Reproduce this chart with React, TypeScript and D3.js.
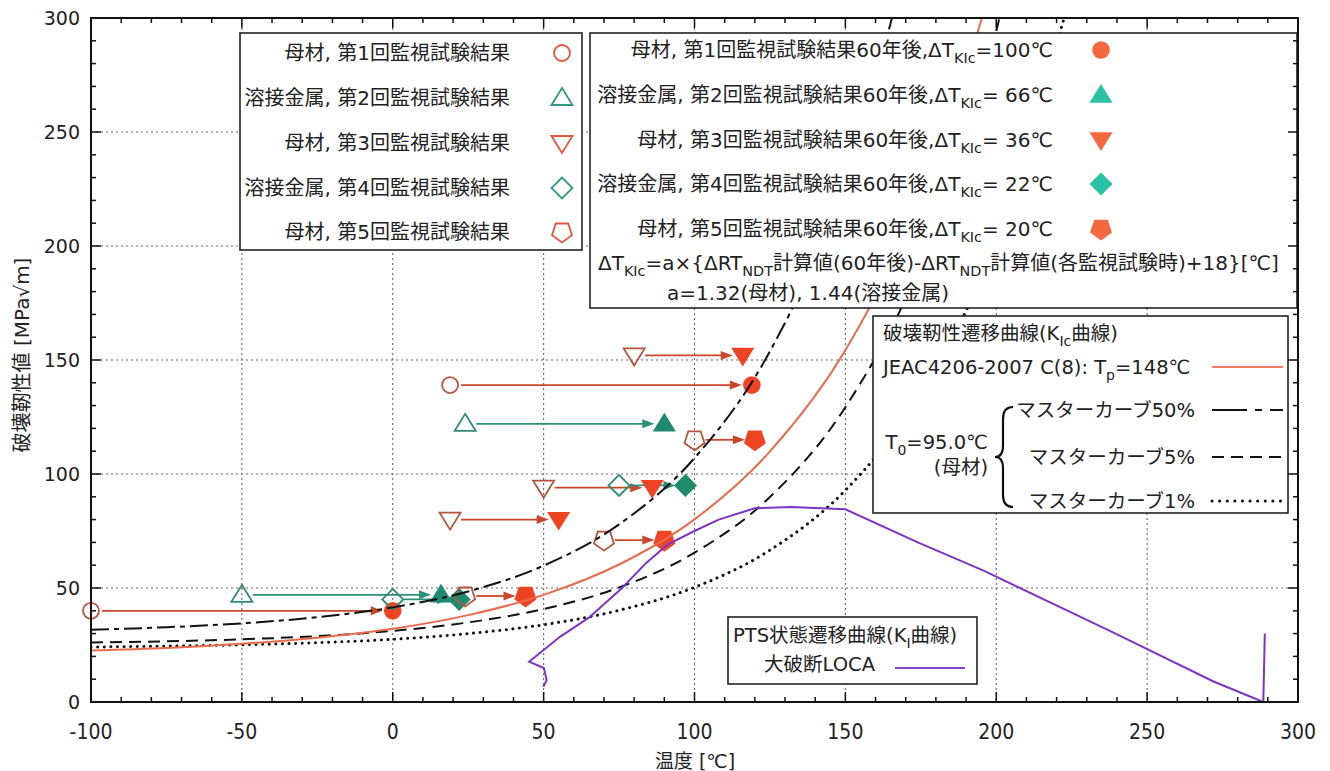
import React, { useEffect, useRef } from "react";
import * as d3 from "d3";

// axis ticks
const xTicks = [-100, -50, 0, 50, 100, 150, 200, 250, 300];
const yTicks = [0, 50, 100, 150, 200, 250, 300];

// JEAC4206-2007 KIc curve, Tp = 148℃
const jeacT = [-100, -75, -50, -25, 0, 25, 50, 75, 100, 125, 150, 175, 200];
const jeacK = [22.6, 23.7, 25.5, 28.2, 32.1, 38.1, 47.0, 60.3, 80.1, 109.9, 154.3, 220.8, 320.2];

// master curves, T0 = 95.0℃
const mc50T = [-100, -75, -50, -25, 0, 25, 50, 75, 100, 125, 150, 175];
const mc50K = [31.7, 32.8, 34.5, 37.2, 41.5, 48.5, 59.8, 77.9, 107.0, 153.8, 229.0, 350.0];
const mc5T = [-100, -75, -50, -25, 0, 25, 50, 75, 100, 125, 150, 175, 200, 225];
const mc5K = [26.1, 26.6, 27.5, 28.9, 31.2, 34.9, 40.8, 50.2, 65.5, 89.9, 129.3, 192.5, 294.3, 457.8];
const mc1T = [-100, -75, -50, -25, 0, 25, 50, 75, 100, 125, 150, 175, 200, 225];
const mc1K = [24.1, 24.5, 25.1, 26.0, 27.5, 30.0, 33.9, 40.2, 50.3, 66.6, 92.9, 135.1, 202.9, 312.0];

// PTS transient (large break LOCA)
const ptsT = [49.9, 51, 50.1, 45.2, 55.4, 65, 76, 84, 91, 100, 108, 120, 132, 150, 174, 196, 238, 272, 288.5, 289];
const ptsK = [6.7, 9.6, 14.9, 17.7, 28.6, 37, 50, 61, 69, 75, 80, 85, 85.5, 84.5, 70, 57.5, 31, 9, 0, 30];

// surveillance results (T) and shifted to 60 years (T60)
const s1T = [-100, 19], s1T60 = [0, 119], s1K = [40, 139];
const s2T = [-50, 24], s2T60 = [16, 90], s2K = [47, 122];
const s3T = [19, 50, 80], s3T60 = [55, 86, 116], s3K = [80, 94, 152];
const s4T = [0, 75], s4T60 = [22, 97], s4K = [45, 95];
const s5T = [24, 70, 100], s5T60 = [44, 90, 120], s5K = [46.5, 71, 115];

const openLabels = [
  "母材, 第1回監視試験結果",
  "溶接金属, 第2回監視試験結果",
  "母材, 第3回監視試験結果",
  "溶接金属, 第4回監視試験結果",
  "母材, 第5回監視試験結果",
];
const filledLabels = [
  "母材, 第1回監視試験結果60年後,ΔT",
  "溶接金属, 第2回監視試験結果60年後,ΔT",
  "母材, 第3回監視試験結果60年後,ΔT",
  "溶接金属, 第4回監視試験結果60年後,ΔT",
  "母材, 第5回監視試験結果60年後,ΔT",
];
const dtLabels = ["=100℃", "= 66℃", "= 36℃", "= 22℃", "= 20℃"];

const FONT = "'DejaVu Sans', 'Noto Sans CJK JP', sans-serif";
const W = 1330;
const H = 771;
const L = 91, R = 1298, T = 18, B = 702;

const symbolPath = (kind: string) => {
  if (kind === "circle") return d3.symbol(d3.symbolCircle, Math.PI * 64)() as string;
  if (kind === "up") return "M0,-10L10.5,7L-10.5,7Z";
  if (kind === "down") return "M0,10L10.5,-7L-10.5,-7Z";
  if (kind === "diamond") return "M0,-10.5L10.5,0L0,10.5L-10.5,0Z";
  const pts = d3.range(5).map((i) => {
    const a = Math.PI / 2 + (i * 2 * Math.PI) / 5;
    return [10.5 * Math.cos(a), 10.5 * Math.sin(a)];
  });
  return "M" + pts.join("L") + "Z";
};

export default function App() {
  const svgRef = useRef<SVGSVGElement>(null);

  useEffect(() => {
    const svg = d3.select(svgRef.current);
    svg.selectAll("*").remove();

    const x = d3.scaleLinear().domain([-100, 300]).range([L, R]);
    const y = d3.scaleLinear().domain([0, 300]).range([B, T]);

    svg.append("defs").append("clipPath").attr("id", "plotclip")
      .append("rect").attr("x", L).attr("y", T).attr("width", R - L).attr("height", B - T);

    // grid
    const grid = svg.append("g").attr("stroke", "#666").attr("stroke-width", 1.1).attr("stroke-dasharray", "2,3");
    xTicks.slice(1, -1).forEach((t) => {
      grid.append("line").attr("x1", x(t)).attr("x2", x(t)).attr("y1", T).attr("y2", B);
    });
    yTicks.slice(1, -1).forEach((t) => {
      grid.append("line").attr("x1", L).attr("x2", R).attr("y1", y(t)).attr("y2", y(t));
    });

    // surveillance markers with arrows
    const series = [
      { t: s1T, t60: s1T60, k: s1K, kind: "circle", weld: false },
      { t: s2T, t60: s2T60, k: s2K, kind: "up", weld: true },
      { t: s3T, t60: s3T60, k: s3K, kind: "down", weld: false },
      { t: s4T, t60: s4T60, k: s4K, kind: "diamond", weld: true },
      { t: s5T, t60: s5T60, k: s5K, kind: "pent", weld: false },
    ];
    const pts = svg.append("g");
    series.forEach((s) => {
      const arrowC = s.weld ? "#2a9178" : "#c9472b";
      s.t.forEach((t0, i) => {
        const yy = y(s.k[i]);
        const x0 = x(t0) + 11;
        const x1 = x(s.t60[i]) - 10;
        pts.append("line").attr("x1", x0).attr("x2", x1 - 8).attr("y1", yy).attr("y2", yy)
          .attr("stroke", arrowC).attr("stroke-width", 1.8);
        pts.append("path").attr("d", `M${x1},${yy}L${x1 - 12},${yy - 4.5}L${x1 - 12},${yy + 4.5}Z`).attr("fill", arrowC);
      });
    });
    series.forEach((s) => {
      pts.selectAll(null).data(s.t).join("path")
        .attr("d", symbolPath(s.kind))
        .attr("transform", (d, i) => `translate(${x(d)},${y(s.k[i])})`)
        .attr("fill", "none")
        .attr("stroke", s.weld ? "#2e8a72" : "#b5553f")
        .attr("stroke-width", 1.8);
      pts.selectAll(null).data(s.t60).join("path")
        .attr("d", symbolPath(s.kind))
        .attr("transform", (d, i) => `translate(${x(d)},${y(s.k[i])}) scale(1.1)`)
        .attr("fill", s.weld ? "#1f8a6e" : "#ef4424");
    });

    // curves
    const curves = svg.append("g").attr("clip-path", "url(#plotclip)").attr("fill", "none");
    const smooth = d3.line<number>().x((d) => x(d)).curve(d3.curveMonotoneX);
    const addCurve = (ts: number[], ks: number[], color: string, width: number, dash: string | null, cap = "butt") => {
      curves.append("path")
        .attr("d", smooth.y((d, i) => y(ks[i]))(ts))
        .attr("stroke", color).attr("stroke-width", width)
        .attr("stroke-dasharray", dash).attr("stroke-linecap", cap);
    };
    addCurve(mc1T, mc1K, "#111", 3, "0.1,6.5", "round");
    addCurve(mc5T, mc5K, "#111", 2, "12,7");
    addCurve(mc50T, mc50K, "#111", 2, "18,5,5,5");
    addCurve(jeacT, jeacK, "#e96c4e", 2, null);
    curves.append("path")
      .attr("d", d3.line<number>().x((d) => x(d)).y((d, i) => y(ptsK[i]))(ptsT))
      .attr("stroke", "#7f35c4").attr("stroke-width", 2);

    // rich text helper with subscripts
    const rich = (g: any, px: number, py: number, parts: [string, boolean][], anchor: string, size: number) => {
      const t = g.append("text").attr("x", px).attr("y", py).attr("text-anchor", anchor)
        .attr("font-size", size).attr("font-family", FONT).attr("fill", "#222").style("white-space", "pre");
      parts.forEach(([s, sub], i) => {
        const ts = t.append("tspan").text(s);
        if (sub) ts.attr("dy", 6).attr("font-size", size * 0.72);
        else if (i > 0 && parts[i - 1][1]) ts.attr("dy", -6);
      });
      return t;
    };
    const box = (g: any, x0: number, y0: number, x1: number, y1: number) =>
      g.append("rect").attr("x", x0).attr("y", y0).attr("width", x1 - x0).attr("height", y1 - y0)
        .attr("fill", "#fff").attr("stroke", "#222").attr("stroke-width", 1.6);

    // legend 1: open markers
    const lg1 = svg.append("g");
    box(lg1, 240, 33, 582, 250);
    const lg1Y = [53, 98, 143, 188, 232];
    openLabels.forEach((lab, i) => {
      rich(lg1, 510, lg1Y[i] + 7, [[lab, false]], "end", 20);
      lg1.append("path").attr("d", symbolPath(series[i].kind))
        .attr("transform", `translate(562,${lg1Y[i]})`).attr("fill", "none")
        .attr("stroke", series[i].weld ? "#2f9a80" : "#e4563e").attr("stroke-width", 1.8);
    });

    // legend 2: filled markers
    const lg2 = svg.append("g");
    box(lg2, 590, 33, 1297, 308);
    const lg2Y = [50, 95, 140, 184, 229];
    filledLabels.forEach((lab, i) => {
      rich(lg2, 1053, lg2Y[i] + 7, [[lab, false], ["KIc", true], [dtLabels[i], false]], "end", 20);
      lg2.append("path").attr("d", symbolPath(series[i].kind))
        .attr("transform", `translate(1101,${lg2Y[i]}) scale(1.1)`)
        .attr("fill", series[i].weld ? "#2cc0a6" : "#f6683f");
    });
    rich(lg2, 598, 270, [["ΔT", false], ["KIc", true], ["=a×{ΔRT", false], ["NDT", true], ["計算値(60年後)-ΔRT", false], ["NDT", true], ["計算値(各監視試験時)+18}[℃]", false]], "start", 20);
    rich(lg2, 667, 300, [["a=1.32(母材), 1.44(溶接金属)", false]], "start", 20);

    // legend 3: KIc curves
    const lg3 = svg.append("g");
    box(lg3, 873, 316, 1288, 513);
    rich(lg3, 883, 340, [["破壊靭性遷移曲線(K", false], ["Ic", true], ["曲線)", false]], "start", 19.5);
    rich(lg3, 883, 374, [["JEAC4206-2007 C(8): T", false], ["p", true], ["=148℃", false]], "start", 19.5);
    lg3.append("line").attr("x1", 1212).attr("x2", 1283).attr("y1", 367).attr("y2", 367).attr("stroke", "#ef7e62").attr("stroke-width", 2.2);
    const mcRows: [string, number, string, number][] = [
      ["マスターカーブ50%", 410, "35,8,7,8", 2],
      ["マスターカーブ5%", 457, "12,7", 2],
      ["マスターカーブ1%", 501, "0.1,7.5", 3],
    ];
    mcRows.forEach(([lab, yy, dash, w]) => {
      rich(lg3, 1195, yy + 7, [[lab, false]], "end", 19.5);
      lg3.append("line").attr("x1", 1212).attr("x2", 1283).attr("y1", yy).attr("y2", yy)
        .attr("stroke", "#111").attr("stroke-width", w).attr("stroke-dasharray", dash)
        .attr("stroke-linecap", w > 2 ? "round" : "butt");
    });
    rich(lg3, 988, 449, [["T", false], ["0", true], ["=95.0℃", false]], "end", 19.5);
    rich(lg3, 988, 474, [["(母材)", false]], "end", 19.5);
    lg3.append("path")
      .attr("d", "M1013,407Q1003,407 1003,419L1003,446Q1003,457 995,457Q1003,457 1003,468L1003,495Q1003,507 1013,507")
      .attr("fill", "none").attr("stroke", "#111").attr("stroke-width", 2.2);

    // legend 4: PTS
    const lg4 = svg.append("g");
    box(lg4, 728, 617, 977, 684);
    rich(lg4, 733, 642, [["PTS状態遷移曲線(K", false], ["I", true], ["曲線)", false]], "start", 19.5);
    rich(lg4, 875, 671, [["大破断LOCA", false]], "end", 19.5);
    lg4.append("line").attr("x1", 895).attr("x2", 965).attr("y1", 668).attr("y2", 668).attr("stroke", "#8a45cc").attr("stroke-width", 2);

    // frame and ticks
    const ax = svg.append("g").attr("stroke", "#111");
    d3.range(-100, 301, 10).forEach((t) => {
      const len = t % 50 === 0 ? 10 : 5;
      ax.append("line").attr("x1", x(t)).attr("x2", x(t)).attr("y1", B).attr("y2", B - len).attr("stroke-width", 1.5);
      ax.append("line").attr("x1", x(t)).attr("x2", x(t)).attr("y1", T).attr("y2", T + len).attr("stroke-width", 1.5);
    });
    d3.range(0, 301, 10).forEach((t) => {
      const len = t % 50 === 0 ? 10 : 5;
      ax.append("line").attr("x1", L).attr("x2", L + len).attr("y1", y(t)).attr("y2", y(t)).attr("stroke-width", 1.5);
      ax.append("line").attr("x1", R).attr("x2", R - len).attr("y1", y(t)).attr("y2", y(t)).attr("stroke-width", 1.5);
    });
    ax.append("rect").attr("x", L).attr("y", T).attr("width", R - L).attr("height", B - T)
      .attr("fill", "none").attr("stroke-width", 2);

    // tick labels
    svg.append("g").selectAll("text").data(yTicks).join("text")
      .attr("x", 80).attr("y", (d) => y(d) + 7).attr("text-anchor", "end")
      .attr("font-family", "'DejaVu Sans', sans-serif").attr("font-size", 19).attr("fill", "#222")
      .text((d) => d);
    svg.append("g").selectAll("text").data(xTicks).join("text")
      .attr("x", (d) => x(d)).attr("y", 739).attr("text-anchor", "middle")
      .attr("font-family", "'DejaVu Sans Condensed', 'DejaVu Sans', sans-serif").style("font-stretch", "condensed")
      .attr("font-size", 21).attr("fill", "#222")
      .text((d) => d);

    // axis titles
    svg.append("text").attr("x", 695).attr("y", 768).attr("text-anchor", "middle")
      .attr("font-family", FONT).attr("font-size", 19).attr("fill", "#222").text("温度 [℃]");
    svg.append("text").attr("transform", "translate(29,355) rotate(-90)").attr("text-anchor", "middle")
      .attr("font-family", FONT).attr("font-size", 20).attr("fill", "#222").text("破壊靭性値 [MPa√m]");
  }, []);

  return (
    <svg ref={svgRef} width={W} height={H}
      style={{ position: "absolute", left: 0, top: 0, background: "#fff" }} />
  );
}
